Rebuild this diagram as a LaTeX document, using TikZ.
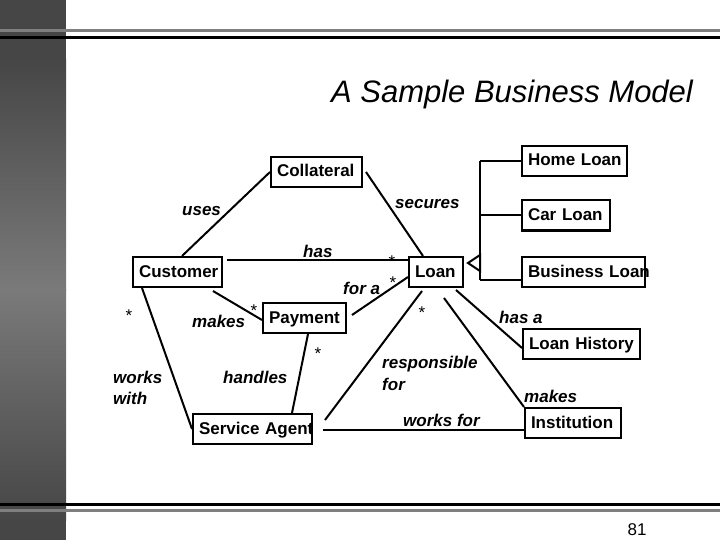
\documentclass[tikz,border=0pt]{standalone}
\usepackage{fontspec}
\setmainfont{Liberation Sans}
\usetikzlibrary{calc}
\definecolor{rulegray}{HTML}{7F7F7F}
\definecolor{bardark}{HTML}{464646}
\definecolor{barlight}{HTML}{7A7A7A}
\tikzset{
  box/.style={draw, line width=2pt, minimum height=30pt, inner xsep=6pt, inner ysep=0pt,
    text height=12.5pt, text depth=2.5pt, align=left,
    font=\fontsize{17}{20}\selectfont\bfseries},
  lbl/.style={inner sep=0pt, font=\fontsize{17}{21}\selectfont\bfseries\itshape},
  starlbl/.style={inner sep=0pt, anchor=base, font=\fontsize{17}{20}\selectfont},
  conn/.style={line width=2pt},
}
\begin{document}
\begin{tikzpicture}[x=1pt,y=-1pt]
\useasboundingbox (0,0) rectangle (720,540);
% side bar and rules
\fill[bardark] (0,0) rectangle (66,60);
\shade[top color=bardark, bottom color=barlight] (0,59.5) rectangle (66,290);
\shade[top color=barlight, bottom color=bardark] (0,289.5) rectangle (66,520);
\fill[bardark] (0,519.5) rectangle (66,540);
\fill[rulegray] (0,29) rectangle (720,32);
\fill[black] (0,36) rectangle (720,39);
\fill[black] (0,503) rectangle (720,506);
\fill[rulegray] (0,509) rectangle (720,512);

\node[anchor=base, inner sep=0pt, font=\fontsize{31}{36}\selectfont\itshape] (title) at (512,103) {A Sample Business Model};
\node[anchor=base, inner sep=0pt, font=\fontsize{17}{20}\selectfont] (pg) at (637,535) {81};

% classes
\node[box, text width=79pt] (coll) at (316.5,172) {Collateral};
\node[box, text width=77pt] (cust) at (177.5,272) {Customer};
\node[box, text width=42pt] (loan) at (436,272) {Loan};
\node[box, text width=93pt] (home) at (574.5,161) {\mbox{Home Loan}};
\node[box, text width=76pt] (car) at (566,215.5) {\mbox{Car Loan}};
\node[box, text width=111pt] (bus) at (583.5,272) {\mbox{Business Loan}};
\node[box, text width=71pt] (pay) at (304.5,318) {Payment};
\node[box, text width=107pt] (sa) at (252.5,429) {\mbox{Service Agent}};
\node[box, text width=105pt] (lh) at (581.5,344) {\mbox{Loan History}};
\node[box, text width=84pt] (inst) at (573,423) {Institution};

% associations
\draw[conn] ([xshift=4.5pt]cust.north) -- (coll.west);
\draw[conn] ([xshift=3pt]coll.east) -- ([xshift=-13pt]loan.north);
\draw[conn] ([xshift=4pt,yshift=-4pt]cust.north east) -- ([yshift=-4pt]loan.north west);
\draw[conn] ([xshift=5pt,yshift=3pt]pay.east) -- ([yshift=-5pt]loan.west);
\draw[conn] ([xshift=-10pt,yshift=-3pt]cust.south east) -- ([yshift=-2pt]pay.west);
\draw[conn] ([xshift=3.5pt]pay.south) -- ([xshift=39.5pt]sa.north);
\draw[conn] ([xshift=10pt]cust.south west) -- (sa.west);
\draw[conn] ([xshift=12pt,yshift=9pt]sa.east) -- ([xshift=-14pt,yshift=-3pt]loan.south);
\draw[conn] ([xshift=10pt,yshift=-1pt]sa.east) -- ([yshift=-7pt]inst.west);
\draw[conn] ([xshift=8pt,yshift=-10pt]loan.south) -- (inst.north west);
\draw[conn] ([xshift=-8pt,yshift=-2pt]loan.south east) -- ([yshift=-4pt]lh.west);

% generalization
\coordinate (tip) at ([xshift=4pt,yshift=9pt]loan.east);
\coordinate (gb) at ([xshift=12pt]tip);
\coordinate (bl) at ([yshift=-8pt]bus.west);
\draw[conn] (gb |- home.west) -- (gb |- bl);
\draw[conn] (gb |- home.west) -- (home.west);
\draw[conn] (gb |- car.west) -- (car.west);
\draw[conn] (gb |- bl) -- (bl);
\draw[conn, fill=white, line join=miter] (tip) -- ([yshift=8pt]gb) -- ([yshift=-8pt]gb) -- cycle;

% labels
\node[lbl, anchor=base west] (luses) at (182,215) {uses};
\node[lbl, anchor=base west] (lsecures) at (395,209) {secures};
\node[lbl, anchor=base west] (lhas) at (303,258) {has};
\node[lbl, anchor=base west] (lfora) at (343,294) {for a};
\node[lbl, anchor=base west] (lmakes) at (192,327) {makes};
\node[lbl, anchor=base west] (lhandles) at (223,383) {handles};
\node[lbl, anchor=north west, align=left] (lworkswith) at (113,371) {works\\with};
\node[lbl, anchor=north west, align=left, font=\fontsize{17}{22}\selectfont\bfseries\itshape] (lresp) at (382,356) {responsible\\for};
\node[lbl, anchor=base west] (lworksfor) at (403,426) {works for};
\node[lbl, anchor=base west] (lmakesb) at (524,402) {makes};
\node[lbl, anchor=base west] (lhasa) at (499,323) {has a};

% multiplicities
\node[starlbl] (s1) at (392,267) {*};
\node[starlbl] (s2) at (393,288) {*};
\node[starlbl] (s3) at (254,316) {*};
\node[starlbl] (s4) at (129,321) {*};
\node[starlbl] (s5) at (318,359) {*};
\node[starlbl] (s6) at (422,318) {*};
\end{tikzpicture}
\end{document}
